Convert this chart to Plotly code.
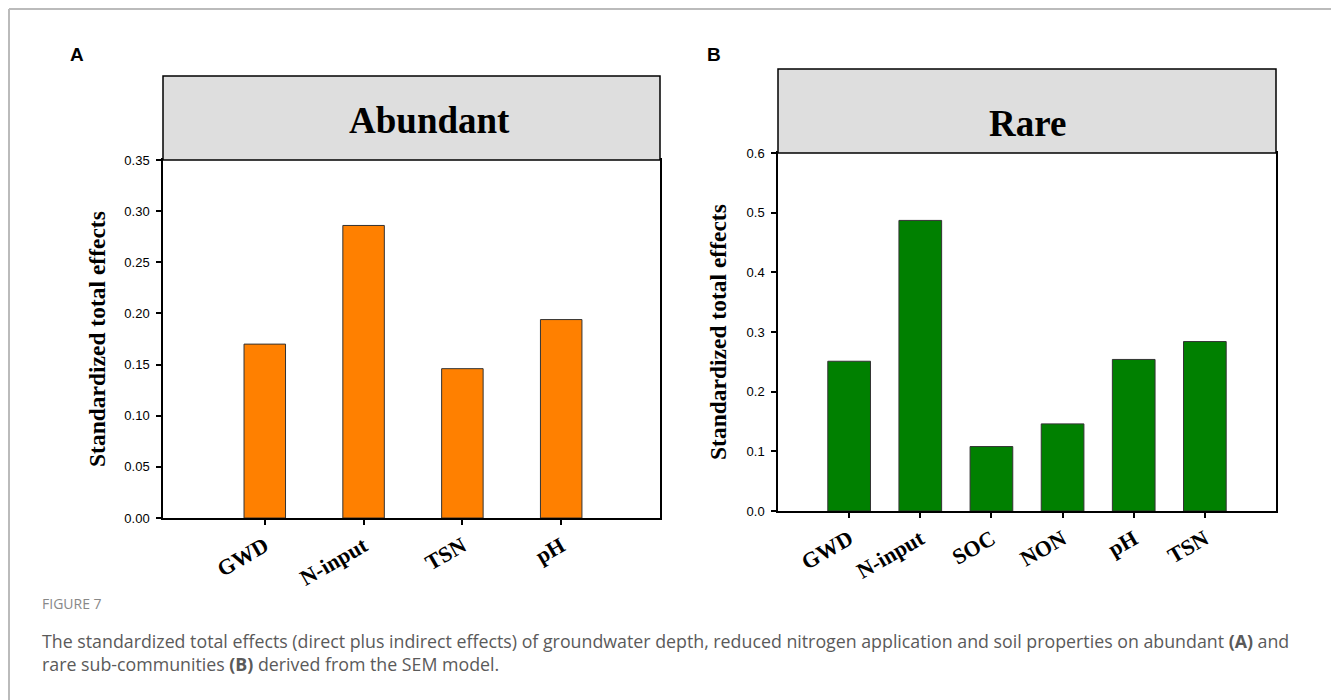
import plotly.graph_objects as go

W, H = 1331, 700

cats_a = ["GWD", "N-input", "TSN", "pH"]
vals_a = [0.170, 0.286, 0.146, 0.194]
cats_b = ["GWD", "N-input", "SOC", "NON", "pH", "TSN"]
vals_b = [0.251, 0.487, 0.108, 0.146, 0.254, 0.284]
yticks_a = [0.00, 0.05, 0.10, 0.15, 0.20, 0.25, 0.30, 0.35]
yticks_b = [0.0, 0.1, 0.2, 0.3, 0.4, 0.5, 0.6]

ORANGE = "#FF8000"
GREEN = "#008000"

def px_x(v):
    return v / W

def px_y(v):
    return 1 - v / H

fig = go.Figure()
fig.add_trace(go.Bar(x=list(range(len(cats_a))), y=vals_a, width=0.42,
                     marker=dict(color=ORANGE, line=dict(color="#333333", width=1)),
                     xaxis="x", yaxis="y", showlegend=False))
fig.add_trace(go.Bar(x=list(range(len(cats_b))), y=vals_b, width=0.6,
                     marker=dict(color=GREEN, line=dict(color="#333333", width=1)),
                     xaxis="x2", yaxis="y2", showlegend=False))

axis_common = dict(showline=True, linecolor="black", linewidth=1.5, mirror=True,
                   showgrid=False, zeroline=False, ticks="outside", ticklen=5,
                   tickcolor="black", tickwidth=1.5, automargin=False)
xfont = dict(family="Liberation Serif", size=22, color="black", weight="bold")
yfont = dict(family="Liberation Sans", size=13, color="black")

A_dom_x = [px_x(163), px_x(660)]
A_dom_y = [px_y(518), px_y(160)]
B_dom_x = [px_x(778), px_x(1276)]
B_dom_y = [px_y(511), px_y(153)]

fig.update_layout(
    template="none",
    width=W, height=H, margin=dict(l=0, r=0, t=0, b=0, pad=0, autoexpand=False),
    paper_bgcolor="white", plot_bgcolor="white",
    xaxis=dict(domain=A_dom_x, anchor="y", range=[-1.03, 4.0],
               tickvals=list(range(len(cats_a))), ticktext=cats_a,
               tickangle=-30, tickfont=xfont, **axis_common),
    yaxis=dict(domain=A_dom_y, anchor="x", range=[0, 0.35],
               tickvals=yticks_a, tickformat=".2f", tickfont=yfont,
               ticklabelstandoff=4, **axis_common),
    xaxis2=dict(domain=B_dom_x, anchor="y2", range=[-1.0, 6.0],
                tickvals=list(range(len(cats_b))), ticktext=cats_b,
                tickangle=-30, tickfont=xfont, **axis_common),
    yaxis2=dict(domain=B_dom_y, anchor="x2", range=[0, 0.6],
                tickvals=yticks_b, tickformat=".1f", tickfont=yfont,
                ticklabelstandoff=4, **axis_common),
)

shapes = [
    dict(type="line", xref="paper", yref="paper", x0=px_x(9), x1=1, y0=px_y(9), y1=px_y(9),
         line=dict(color="#BBBBBB", width=2)),
    dict(type="line", xref="paper", yref="paper", x0=px_x(9), x1=px_x(9), y0=0, y1=px_y(9),
         line=dict(color="#BBBBBB", width=2)),
    dict(type="rect", xref="paper", yref="paper", x0=A_dom_x[0], x1=A_dom_x[1],
         y0=A_dom_y[1], y1=px_y(76), fillcolor="#DEDEDE", line=dict(color="black", width=1.5)),
    dict(type="rect", xref="paper", yref="paper", x0=B_dom_x[0], x1=B_dom_x[1],
         y0=B_dom_y[1], y1=px_y(69), fillcolor="#DEDEDE", line=dict(color="black", width=1.5)),
]
fig.update_layout(shapes=shapes)

ann = []
def add_text(x, y, text, font, xanchor="center", yanchor="middle", **kw):
    d = dict(x=px_x(x), y=px_y(y), xref="paper", yref="paper", text=text,
             showarrow=False, font=font, xanchor=xanchor, yanchor=yanchor)
    d.update(kw)
    ann.append(d)

add_text(430, 121, "<b>Abundant</b>", dict(family="Liberation Serif", size=37, color="black"))
add_text(1027, 123, "<b>Rare</b>", dict(family="Liberation Serif", size=37, color="black"))
ytitle_font = dict(family="Liberation Serif", size=23.5, color="black")
add_text(97, 339, "<b>Standardized total effects</b>", ytitle_font, textangle=-90)
add_text(718, 332, "<b>Standardized total effects</b>", ytitle_font, textangle=-90)
add_text(77, 55, "<b>A</b>", dict(family="Liberation Sans", size=19, color="black"))
add_text(714, 54, "<b>B</b>", dict(family="Liberation Sans", size=19, color="black"))

cap_font = dict(family="Open Sans", size=17.8, color="#5A5A5A")
add_text(40, 603, "FIGURE 7", dict(family="Open Sans", size=14, color="#888888"),
         xanchor="left")
add_text(40, 641, "The standardized total effects (direct plus indirect effects) of groundwater depth, "
         "reduced nitrogen application and soil properties on abundant <b>(A)</b> and",
         cap_font, xanchor="left")
add_text(40, 664, "rare sub-communities <b>(B)</b> derived from the SEM model.", cap_font,
         xanchor="left")
fig.update_layout(annotations=ann)

fig.write_html("out.html")
